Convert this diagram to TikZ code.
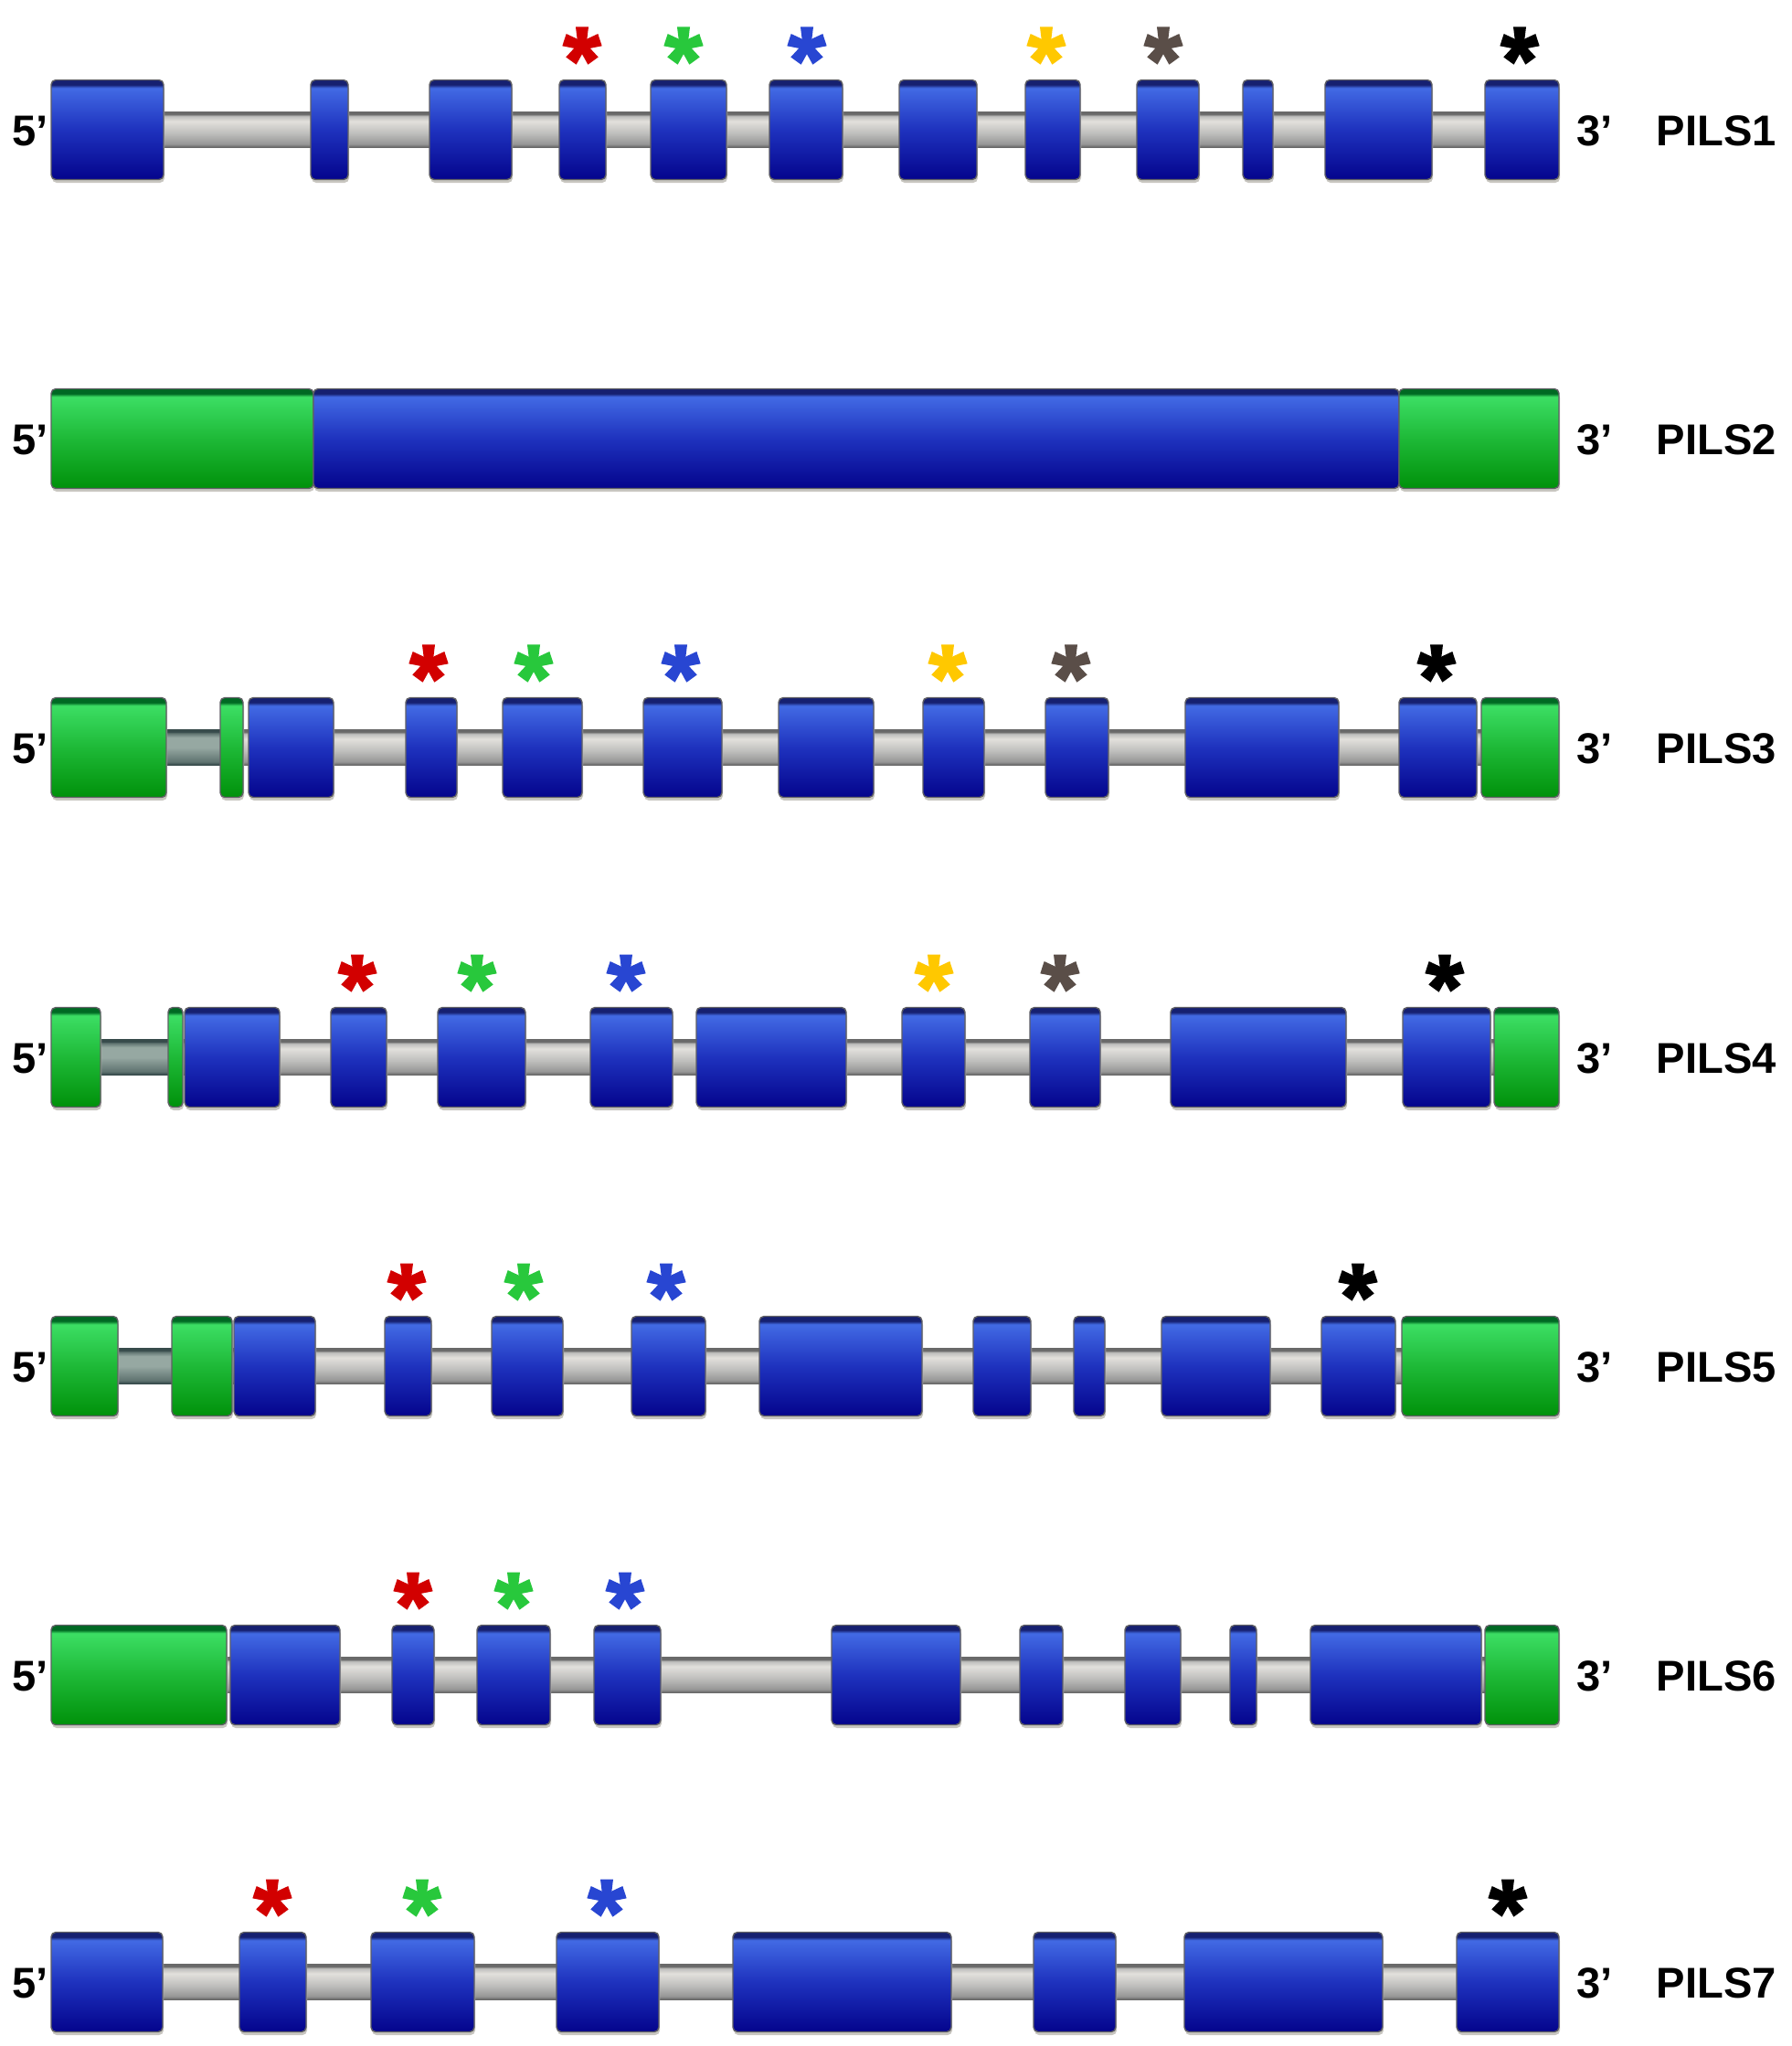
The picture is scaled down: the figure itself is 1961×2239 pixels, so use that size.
\documentclass[tikz,border=0pt]{standalone}
\usepackage{fontspec}
\setmainfont{Liberation Sans}
\definecolor{btop}{RGB}{66,106,228}
\definecolor{bmid}{RGB}{30,50,190}
\definecolor{bbot}{RGB}{4,4,140}
\definecolor{bedge}{RGB}{22,32,112}
\definecolor{gtop}{RGB}{60,222,100}
\definecolor{gmid}{RGB}{30,185,55}
\definecolor{gbot}{RGB}{0,145,10}
\definecolor{gedge}{RGB}{0,105,35}
\definecolor{iedge}{RGB}{105,105,105}
\definecolor{ilow}{RGB}{150,150,150}
\definecolor{ilight}{RGB}{226,224,220}
\definecolor{imid}{RGB}{190,190,188}
\definecolor{tedge}{RGB}{55,75,75}
\definecolor{tlow}{RGB}{95,115,112}
\definecolor{tlight}{RGB}{150,168,162}
\definecolor{sred}{RGB}{210,0,0}
\definecolor{sgreen}{RGB}{40,200,60}
\definecolor{sblue}{RGB}{40,70,210}
\definecolor{syellow}{RGB}{255,200,0}
\definecolor{sbrown}{RGB}{90,78,72}
\definecolor{sblack}{RGB}{0,0,0}
\definecolor{shadowgray}{RGB}{200,198,192}
\definecolor{outl}{RGB}{95,95,100}
\pgfdeclareverticalshading{blueex}{100bp}{color(0bp)=(bbot); color(25bp)=(bbot); color(50bp)=(bmid); color(71bp)=(btop); color(72.6bp)=(bedge); color(100bp)=(bedge)}
\pgfdeclareverticalshading{greenex}{100bp}{color(0bp)=(gbot); color(25bp)=(gbot); color(50bp)=(gmid); color(71bp)=(gtop); color(72.6bp)=(gedge); color(100bp)=(gedge)}
\pgfdeclareverticalshading{introntube}{100bp}{color(0bp)=(iedge); color(26bp)=(iedge); color(30bp)=(ilow); color(45bp)=(imid); color(62bp)=(ilight); color(69bp)=(imid); color(72bp)=(iedge); color(100bp)=(iedge)}
\pgfdeclareverticalshading{darktube}{100bp}{color(0bp)=(tedge); color(26bp)=(tedge); color(30bp)=(tlow); color(50bp)=(tlight); color(64bp)=(tlight); color(70bp)=(tlow); color(72bp)=(tedge); color(100bp)=(tedge)}
\tikzset{
  lbl/.style={font=\fontsize{13.4pt}{16pt}\selectfont\bfseries, inner sep=0pt, text=black},
  astar/.pic={
    \foreach \a in {90,18,162,-54,-126}{
      \fill[rotate=\a] (0,-0.045cm) -- (0.205cm,-0.07cm) -- (0.205cm,0.07cm) -- (0,0.045cm) -- cycle;
    }
    \fill (0,0) circle (0.07cm);
  }
}
% exon: x1, x2, yc, shading
\newcommand\exonshape[4]{%
  \fill[shadowgray, rounded corners=0.05cm] (#1+1,#3-50) rectangle (#2+1,#3+58);
  \shade[shading=#4, rounded corners=0.05cm] (#1,#3-54.5) rectangle (#2,#3+54.5);
  \draw[outl, line width=0.4pt, rounded corners=0.05cm] (#1,#3-54.5) rectangle (#2,#3+54.5);}
\newcommand\bexon[3]{\exonshape{#1}{#2}{#3}{blueex}}
\newcommand\gexon[3]{\exonshape{#1}{#2}{#3}{greenex}}
\newcommand\intron[3]{\shade[shading=introntube] (#1,#3-19.5) rectangle (#2,#3+19.5);}
\newcommand\dintron[3]{\shade[shading=darktube] (#1,#3-19.5) rectangle (#2,#3+19.5);}
\begin{document}
\begin{tikzpicture}[x=0.01cm,y=-0.01cm]
\useasboundingbox[fill=white] (0,0) rectangle (1961,2239);
% labels
\foreach \r/\yc in {1/142,2/480,3/818,4/1157,5/1495,6/1833,7/2169}{
  \node[lbl, anchor=base west] (five\r) at (13,\yc+17) {5’};
  \node[lbl, anchor=base west] (three\r) at (1725,\yc+17) {3’};
  \node[lbl, anchor=base west] (name\r) at (1812,\yc+17) {PILS\r};
}
% ---------- PILS1 ----------
\def\yc{142}
\intron{170}{1630}{\yc}
\foreach \a/\b in {56/179,340/381,470/560,612/663,712/795,842/922,984/1069,1122/1182,1244/1312,1360/1393,1450/1567,1625/1706}{\bexon{\a}{\b}{\yc}}
\foreach \x/\c in {637/sred,748/sgreen,883/sblue,1145/syellow,1273/sbrown,1663/sblack}{\pic[color=\c] at (\x,\yc-92) {astar};}
% ---------- PILS2 ----------
\def\yc{480}
\gexon{56}{343}{\yc}
\bexon{343}{1531}{\yc}
\gexon{1531}{1706}{\yc}
% ---------- PILS3 ----------
\def\yc{818}
\intron{250}{1630}{\yc}
\dintron{175}{245}{\yc}
\gexon{56}{182}{\yc}
\gexon{241}{266}{\yc}
\foreach \a/\b in {272/365,444/500,550/637,704/790,852/956,1010/1077,1144/1213,1297/1465,1531/1616}{\bexon{\a}{\b}{\yc}}
\gexon{1621}{1706}{\yc}
\foreach \x/\c in {469/sred,584/sgreen,745/sblue,1037/syellow,1172/sbrown,1572/sblack}{\pic[color=\c] at (\x,\yc-92) {astar};}
% ---------- PILS4 ----------
\def\yc{1157}
\intron{195}{1640}{\yc}
\dintron{105}{190}{\yc}
\gexon{56}{110}{\yc}
\gexon{184}{200}{\yc}
\foreach \a/\b in {202/306,362/423,479/575,646/736,762/926,987/1056,1127/1204,1281/1473,1535/1631}{\bexon{\a}{\b}{\yc}}
\gexon{1635}{1706}{\yc}
\foreach \x/\c in {391/sred,522/sgreen,685/sblue,1022/syellow,1160/sbrown,1581/sblack}{\pic[color=\c] at (\x,\yc-92) {astar};}
% ---------- PILS5 ----------
\def\yc{1495}
\intron{250}{1540}{\yc}
\dintron{122}{195}{\yc}
\gexon{56}{129}{\yc}
\gexon{188}{254}{\yc}
\foreach \a/\b in {256/345,421/472,538/616,691/772,831/1009,1065/1128,1175/1209,1271/1390,1446/1527}{\bexon{\a}{\b}{\yc}}
\gexon{1534}{1706}{\yc}
\foreach \x/\c in {445/sred,573/sgreen,729/sblue,1486/sblack}{\pic[color=\c] at (\x,\yc-92) {astar};}
% ---------- PILS6 ----------
\def\yc{1833}
\intron{240}{1630}{\yc}
\gexon{56}{248}{\yc}
\foreach \a/\b in {252/372,429/475,522/602,650/723,910/1051,1116/1163,1231/1292,1346/1375,1434/1621}{\bexon{\a}{\b}{\yc}}
\gexon{1625}{1706}{\yc}
\foreach \x/\c in {452/sred,562/sgreen,684/sblue}{\pic[color=\c] at (\x,\yc-92) {astar};}
% ---------- PILS7 ----------
\def\yc{2169}
\intron{170}{1600}{\yc}
\foreach \a/\b in {56/178,262/335,406/519,609/721,802/1041,1131/1221,1296/1513,1594/1706}{\bexon{\a}{\b}{\yc}}
\foreach \x/\c in {298/sred,462/sgreen,664/sblue,1650/sblack}{\pic[color=\c] at (\x,\yc-92) {astar};}
\end{tikzpicture}
\end{document}
